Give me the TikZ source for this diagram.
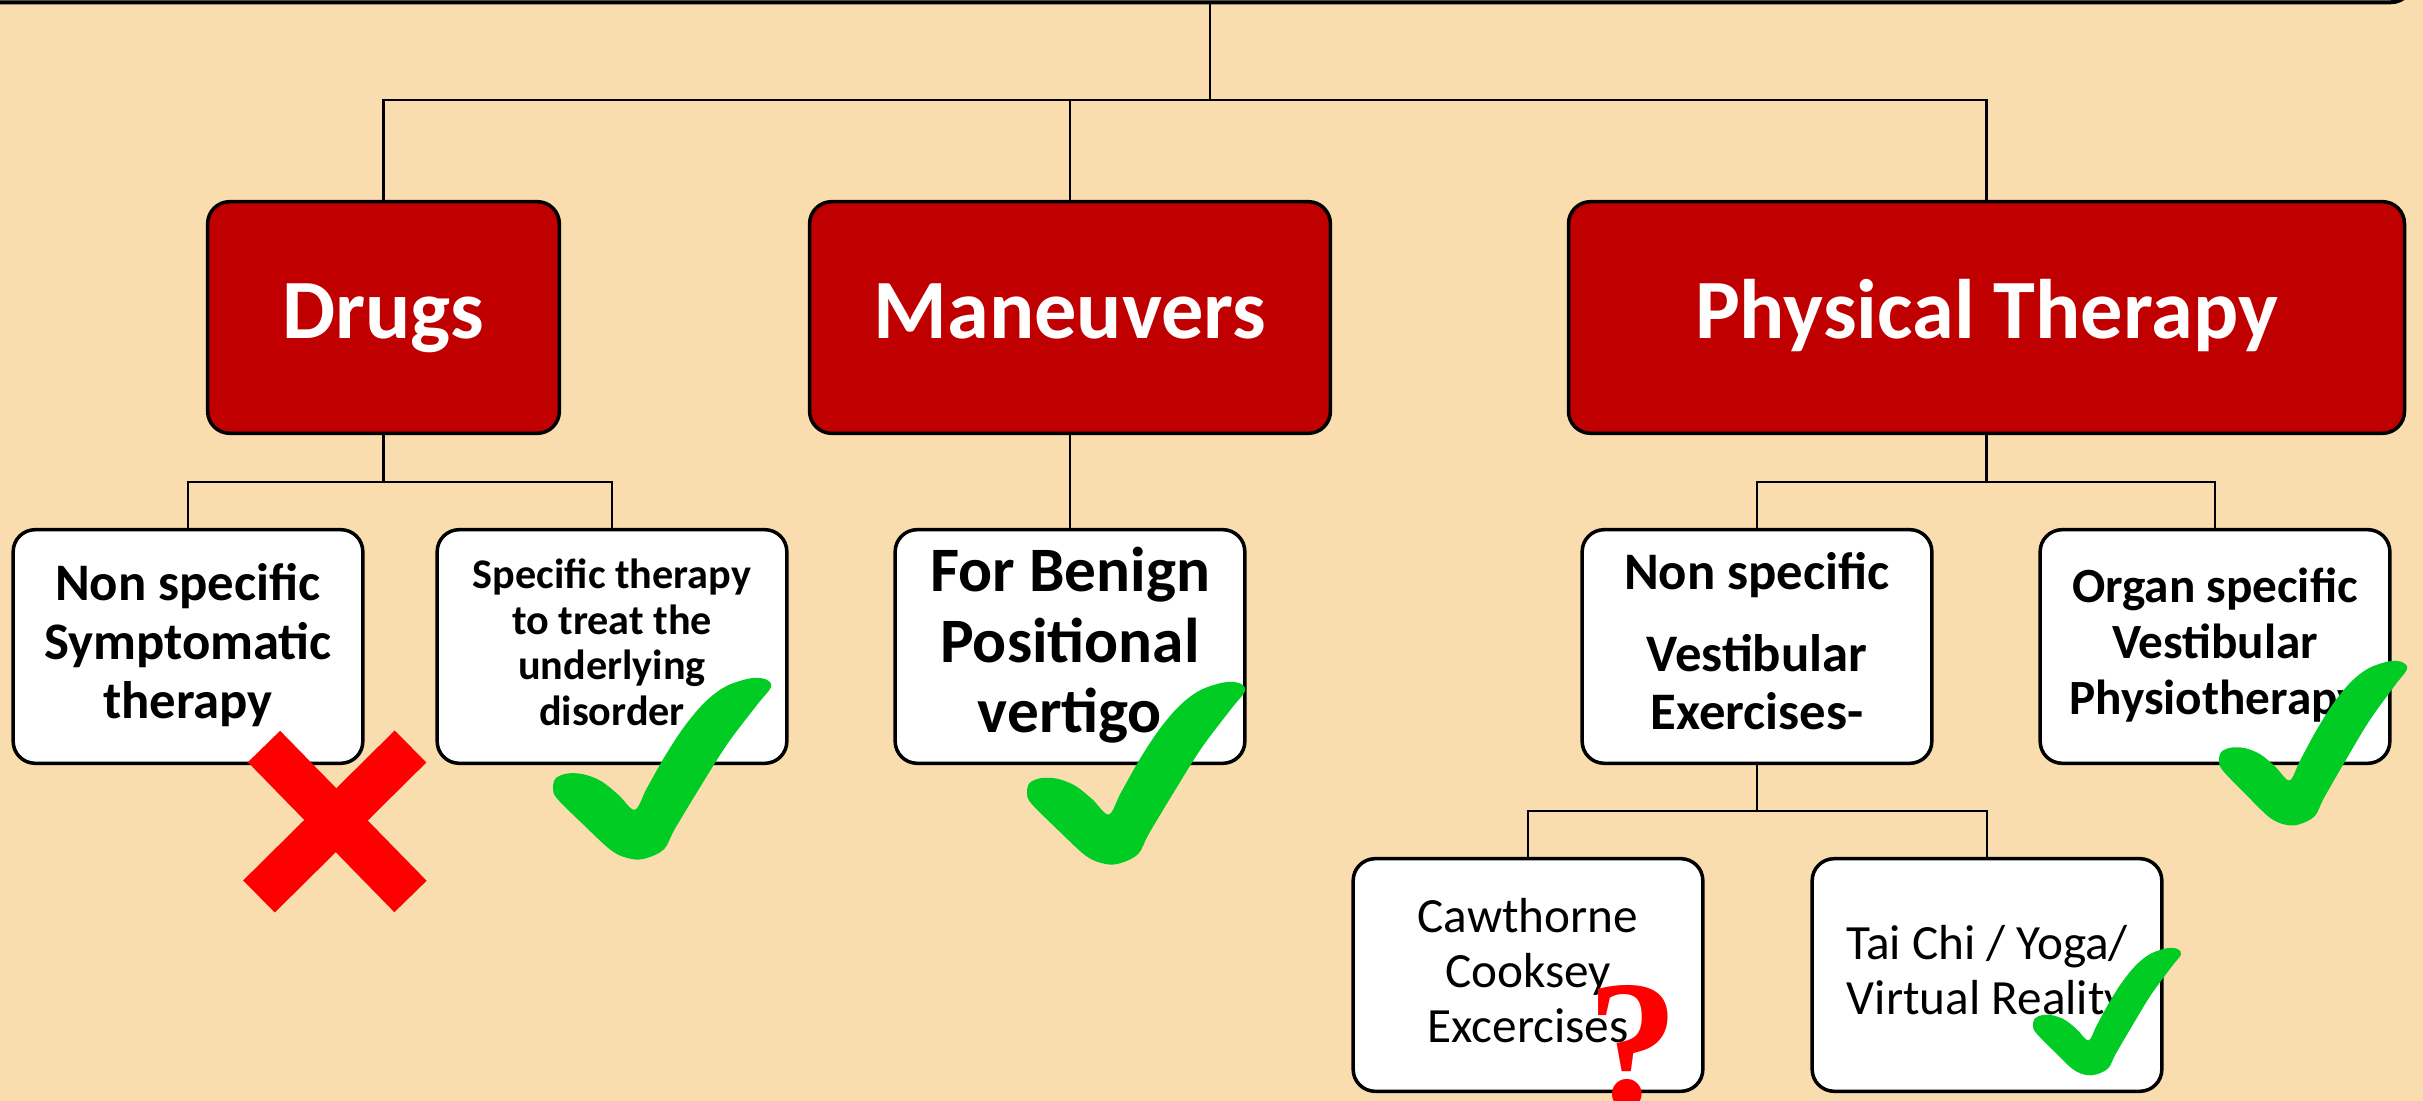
\documentclass[tikz,border=0pt]{standalone}
\usepackage{fontspec}
\setmainfont{Carlito}
\newfontfamily\qfont{Liberation Serif}
\definecolor{bg}{RGB}{249,221,174}
\definecolor{boxred}{RGB}{192,0,0}
\definecolor{chkgreen}{RGB}{0,204,36}
\definecolor{xred}{RGB}{255,0,0}
\newcommand\lnstrut{\rule[-0.25em]{0pt}{1em}}
\newcommand\greencheck[4]{%
  \begin{scope}[shift={(#1,#2)},xscale=#3,yscale=#4]
    \fill[chkgreen] plot[smooth cycle,tension=0.55] coordinates {
      (1.000,0.050) (0.935,0.150) (0.800,0.364) (0.680,0.593) (0.560,0.832)
      (0.510,0.945) (0.430,0.995) (0.360,1.000) (0.270,0.955) (0.135,0.805)
      (0.020,0.668) (0.000,0.612) (0.012,0.555) (0.065,0.528) (0.140,0.532)
      (0.221,0.570) (0.300,0.645) (0.375,0.728) (0.430,0.610) (0.515,0.429)
      (0.605,0.264) (0.700,0.130) (0.795,0.045) (0.905,0.002) (0.975,0.007)};
  \end{scope}}
\tikzset{
  redbox/.style={draw=black, line width=1pt, fill=boxred, rounded corners=0.22cm,
    minimum height=2.315cm, text=white, inner sep=0pt,
    font=\fontsize{24}{29}\selectfont\bfseries},
  whitebox/.style={draw=black, line width=1pt, fill=white, rounded corners=0.22cm,
    minimum width=3.495cm, minimum height=2.335cm, align=center, inner sep=0pt},
  conn/.style={draw=black, line width=0.6pt},
  xbar/.style={draw=xred, line width=0.45cm, line cap=butt},
}
\begin{document}
\begin{tikzpicture}[x=0.01cm, y=-0.01cm]
  \useasboundingbox (0,0) rectangle (2423,1101);
  \fill[bg] (0,0) rectangle (2423,1101);

  % top box (cut off)
  \node[draw=black, line width=0.04cm, rounded corners=0.22cm, minimum width=27cm,
        minimum height=3cm, inner sep=0pt] (root) at (1062,-147.8) {};
  \coordinate (hub) at (1210,100);

  % level 1
  \node[redbox, minimum width=3.515cm] (drugs) at (383.5,317.5) {\lnstrut Drugs};
  \node[redbox, minimum width=5.205cm] (man) at (1070,317.5) {\lnstrut Maneuvers};
  \node[redbox, minimum width=8.355cm] (pt) at (1986.5,317.5) {\lnstrut Physical Therapy};

  % level 2
  \node[whitebox, font=\fontsize{15}{16.7}\selectfont\bfseries] (sym) at (188,646.5)
    {\lnstrut Non specific\\\lnstrut Symptomatic\\\lnstrut therapy};
  \node[whitebox, font=\fontsize{12}{13}\selectfont\bfseries] (spec) at (612,646.5)
    {\lnstrut Specific therapy\\\lnstrut to treat the\\\lnstrut underlying\\\lnstrut disorder};
  \node[whitebox, font=\fontsize{18}{20}\selectfont\bfseries] (bppv) at (1070,646.5)
    {\lnstrut For Benign\\\lnstrut Positional\\\lnstrut vertigo};
  \node[whitebox, font=\fontsize{15}{16.7}\selectfont\bfseries] (nsve) at (1757,646.5)
    {\lnstrut Non specific\\[6.5pt]\lnstrut Vestibular\\\lnstrut Exercises-};
  \node[whitebox, font=\fontsize{14}{15.9}\selectfont\bfseries] (organ) at (2215,646.5)
    {\lnstrut Organ specific\\\lnstrut Vestibular\\\lnstrut Physiotherapy};

  % level 3
  \node[whitebox, minimum height=2.325cm, font=\fontsize{14}{15.6}\selectfont] (caw) at (1528,975)
    {\lnstrut Cawthorne\\\lnstrut Cooksey\\\lnstrut Excercises};
  \node[whitebox, minimum height=2.325cm, font=\fontsize{14}{15.6}\selectfont] (tai) at (1987,975)
    {\lnstrut Tai Chi / Yoga/\\\lnstrut Virtual Reality};

  % connectors
  \draw[conn] (root.south -| hub) -- (hub);
  \draw[conn] (drugs.north) |- (hub) -| (pt.north);
  \draw[conn] (man.north) -- (man.north |- hub);
  \draw[conn] (drugs.south) -- ++(0,47) -| (sym.north);
  \draw[conn] (drugs.south) -- ++(0,47) -| (spec.north);
  \draw[conn] (man.south) -- (bppv.north);
  \draw[conn] (pt.south) -- ++(0,47) -| (nsve.north);
  \draw[conn] (pt.south) -- ++(0,47) -| (organ.north);
  \draw[conn] (nsve.south) -- ++(0,46) -| (caw.north);
  \draw[conn] (nsve.south) -- ++(0,46) -| (tai.north);

  % marks
  \draw[xbar] (264,746.5) -- (410.5,896.5);
  \draw[xbar] (410.5,746.5) -- (259,896.5);
  \greencheck{553}{678}{218}{181}
  \greencheck{1027}{682}{218}{182}
  \greencheck{2219}{661}{188}{164}
  \greencheck{2033}{948}{148}{127}
  \node[anchor=base, inner sep=0pt, text=xred,
        font=\fontsize{52}{52}\selectfont\qfont\bfseries] (qm) at (1633,1107) {?};
\end{tikzpicture}
\end{document}
